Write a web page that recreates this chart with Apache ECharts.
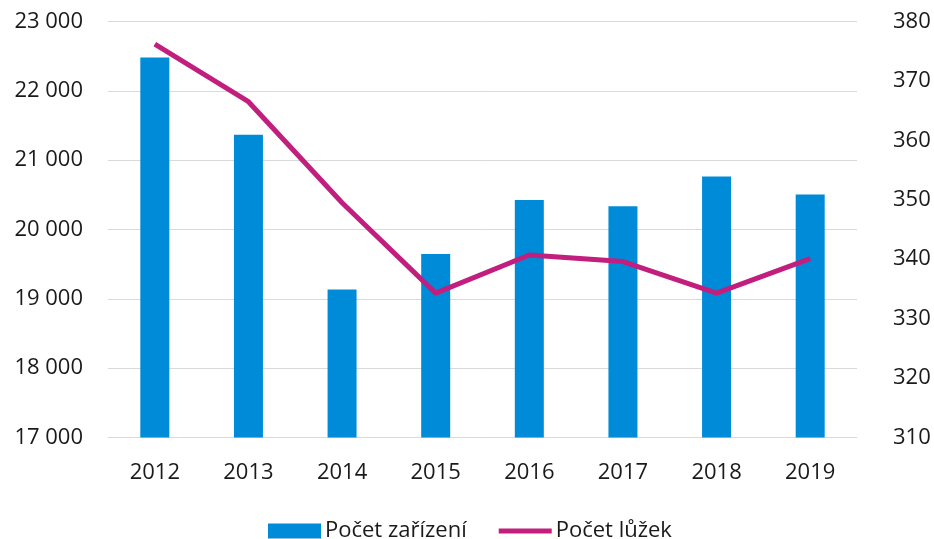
<!DOCTYPE html>
<html>
<head>
<meta charset="utf-8">
<script src="https://cdn.jsdelivr.net/npm/echarts@6/dist/echarts.min.js"></script>
<style>
html,body{margin:0;padding:0;background:#fff;}
#chart{width:934px;height:539px;}
</style>
</head>
<body>
<div id="chart"></div>
<script>
const categories = ['2012','2013','2014','2015','2016','2017','2018','2019'];
const zarizeni = [22480, 21365, 19135, 19645, 20425, 20335, 20765, 20505];
const luzek = [376.2, 366.5, 349.5, 334.3, 340.7, 339.6, 334.3, 340.1];
const leftTicks = [17000, 23000, 1000];
const rightTicks = [310, 380, 10];

const FONT = '"Open Sans", "Noto Sans", sans-serif';
const chart = echarts.init(document.getElementById('chart'));
const fmt = v => String(v).replace(/\B(?=(\d{3})+(?!\d))/g, '\u00a0');
chart.setOption({
  animation: false,
  textStyle: {fontFamily: FONT},
  grid: {left: 108, right: 77, top: 21.5, bottom: 101.5, containLabel: false},
  legend: {
    top: 515,
    left: 263,
    itemWidth: 53,
    itemHeight: 15,
    itemGap: 32,
    textStyle: {fontSize: 22, color: '#1a1a1a', fontFamily: FONT, padding: [0,0,0,-1]},
    data: [
      {name: 'Počet zařízení', icon: 'rect'},
      {name: 'Počet lůžek', icon: 'path://M0,0 L53,0 L53,5 L0,5 Z'}
    ]
  },
  xAxis: {
    type: 'category',
    data: categories,
    axisLine: {lineStyle: {color: '#d9d9d9', width: 1}},
    axisTick: {show: false},
    axisLabel: {fontSize: 22, color: '#1a1a1a', margin: 24, fontFamily: FONT}
  },
  yAxis: [
    {
      type: 'value', min: leftTicks[0], max: leftTicks[1], interval: leftTicks[2],
      axisLine: {show: false}, axisTick: {show: false},
      splitLine: {lineStyle: {color: '#d9d9d9', width: 1}},
      axisLabel: {fontSize: 22, color: '#1a1a1a', margin: 25, formatter: fmt, fontFamily: FONT}
    },
    {
      type: 'value', min: rightTicks[0], max: rightTicks[1], interval: rightTicks[2],
      position: 'right',
      axisLine: {show: false}, axisTick: {show: false},
      splitLine: {show: false},
      axisLabel: {fontSize: 22, color: '#1a1a1a', margin: 36, fontFamily: FONT}
    }
  ],
  series: [
    {
      name: 'Počet zařízení', type: 'bar', data: zarizeni, yAxisIndex: 0,
      barWidth: 29,
      itemStyle: {color: '#008bd9'}
    },
    {
      name: 'Počet lůžek', type: 'line', data: luzek, yAxisIndex: 1,
      symbol: 'none',
      lineStyle: {color: '#c21e7e', width: 5},
      itemStyle: {color: '#c21e7e'}
    }
  ]
});
</script>
</body>
</html>
